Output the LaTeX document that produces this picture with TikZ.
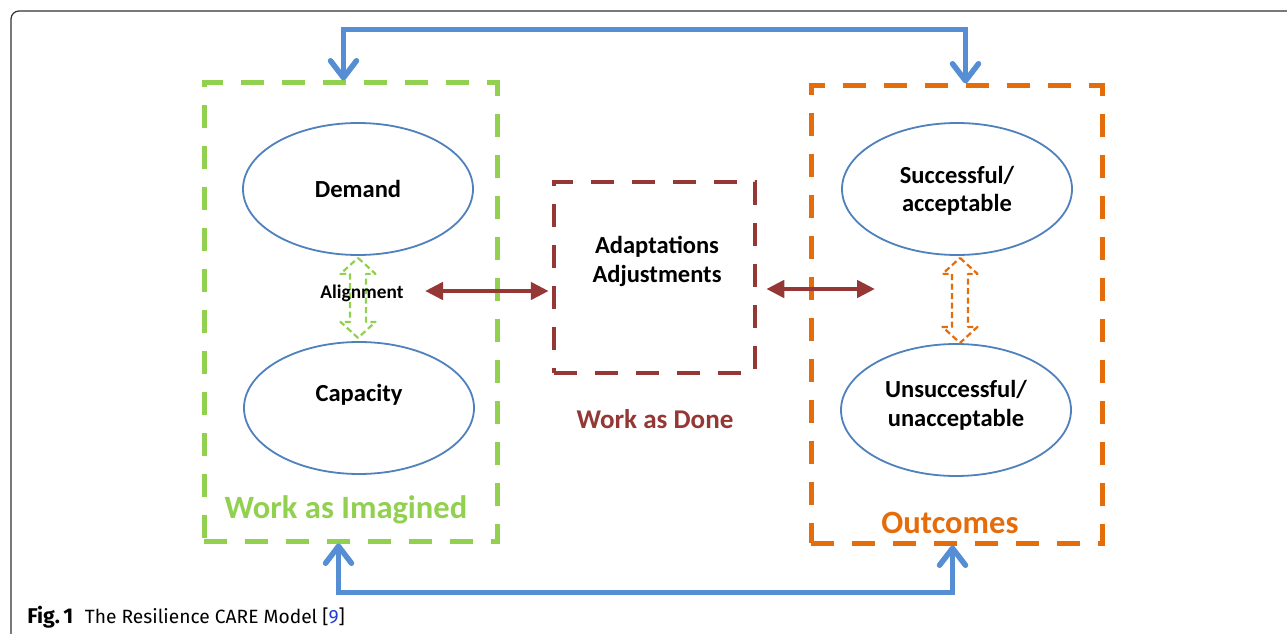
\documentclass[tikz,border=0pt]{standalone}
\usepackage{fontspec}
\setmainfont{Carlito}
\newfontfamily\capfont{Fira Sans}
\usetikzlibrary{arrows.meta,shapes.geometric,calc}
\newdimen\pxu \pxu=0.75pt
\definecolor{cgreen}{RGB}{146,208,80}
\definecolor{corange}{RGB}{228,108,10}
\definecolor{cbrown}{RGB}{149,55,53}
\definecolor{cell}{RGB}{79,129,189}
\definecolor{carrow}{RGB}{85,142,213}
\definecolor{cframe}{RGB}{50,50,50}
\definecolor{clink}{RGB}{30,60,220}
\begin{document}
\begin{tikzpicture}[x=0.75pt,y=-0.75pt,
  dbox/.style={draw, line width=5\pxu, dash pattern=on 23\pxu off 18\pxu, inner sep=0pt},
  ell/.style={ellipse, draw=cell, line width=1.8\pxu, minimum width=230\pxu, minimum height=132\pxu,
    inner sep=0pt, align=center, font=\bfseries\fontsize{18.4}{21.5}\selectfont},
  bluearr/.style={draw=carrow, line width=5.5\pxu, line cap=round,
    {Straight Barb[round,length=12.75pt,width=19.5pt]}-{Straight Barb[round,length=12.75pt,width=19.5pt]}},
  brownarr/.style={draw=cbrown, line width=4.5\pxu,
    {Triangle[length=13.5pt,width=12.75pt]}-{Triangle[length=13.5pt,width=12.75pt]}},
  hollow/.style={line width=2.2\pxu, dash pattern=on 6\pxu off 3.5\pxu, line join=round},
  boxlabel/.style={font=\bfseries\fontsize{24.4}{28}\selectfont, anchor=base},
  ]
\fill[white] (0,0) rectangle (1287,634);
\useasboundingbox (0,0) rectangle (1287,634);
% outer frame
\draw[cframe, line width=1.2\pxu, rounded corners=8\pxu] (1287,11) -- (11,11) -- (11,634);

% boxes
\node[dbox, draw=cgreen, minimum width=293\pxu, minimum height=458\pxu] (wai) at (350.5,312) {};
\node[dbox, draw=corange, minimum width=291\pxu, minimum height=457\pxu] (out) at (956.5,314.5) {};
\node[dbox, draw=cbrown, line width=4.5\pxu, minimum width=201\pxu, minimum height=191\pxu] (wad) at (654.5,277.5) {};

% ellipses
\node[ell] (dem) at (358,189) {Demand};
\node[ell, text depth=31\pxu] (cap) at (359,408) {Capacity};
\node[ell, text depth=0pt] (suc) at (957,189) {Successful/\\acceptable};
\node[ell, text depth=13\pxu] (uns) at (956,410) {Unsuccessful/\\unacceptable};

% labels
\node[boxlabel, text=cgreen] (lwai) at (346,518) {Work as Imagined};
\node[boxlabel, text=corange] (lout) at (950,533) {Outcomes};
\node[anchor=base, text=cbrown, font=\bfseries\fontsize{20.3}{24}\selectfont] (lwad) at (655,428) {Work as Done};
\node[anchor=base, align=center, font=\bfseries\fontsize{18.4}{21}\selectfont] (adj) at (657,282) {Adaptations\\Adjustments};

% hollow dashed double arrows
\draw[hollow, cgreen] ($(dem.south)+(0,2)$) -- ++(17.5,16) -- ++(-9.5,0) -- ++(0,48) -- ++(9.5,0)
  -- ++(-17.5,16) -- ++(-17.5,-16) -- ++(9.5,0) -- ++(0,-48) -- ++(-9.5,0) -- cycle;
\draw[hollow, corange] ($(suc.south)+(3,2)$) -- ++(17.5,16) -- ++(-9.5,0) -- ++(0,53) -- ++(9.5,0)
  -- ++(-17.5,16) -- ++(-17.5,-16) -- ++(9.5,0) -- ++(0,-53) -- ++(-9.5,0) -- cycle;
\node[anchor=base, font=\bfseries\fontsize{14.5}{17}\selectfont] (aln) at (362,299) {Alignment};

% brown arrows
\coordinate (la) at (425,291);
\coordinate (ra) at (875,289);
\draw[brownarr] (la) -- ($(wad.west |- la)+(-3,0)$);
\draw[brownarr] ($(wad.east |- ra)+(9,0)$) -- (ra);

% blue feedback arrows
\draw[bluearr] ($(wai.north west)+(142,0)$) -- ++(0,-51) -| ($(out.north west)+(157,0)$);
\draw[bluearr] ($(wai.south west)+(137,0)$) -- ++(0,49) -| ($(out.south west)+(144,0)$);

% caption
\node[anchor=base west, inner sep=0pt, font=\capfont\fontsize{14.4}{17}\selectfont] (capt) at (27,623)
  {{\fontsize{16}{17}\selectfont\textbf{Fig.\,1}}\hspace{0.6em}The Resilience CARE Model [\textcolor{clink}{9}]};
\end{tikzpicture}
\end{document}
